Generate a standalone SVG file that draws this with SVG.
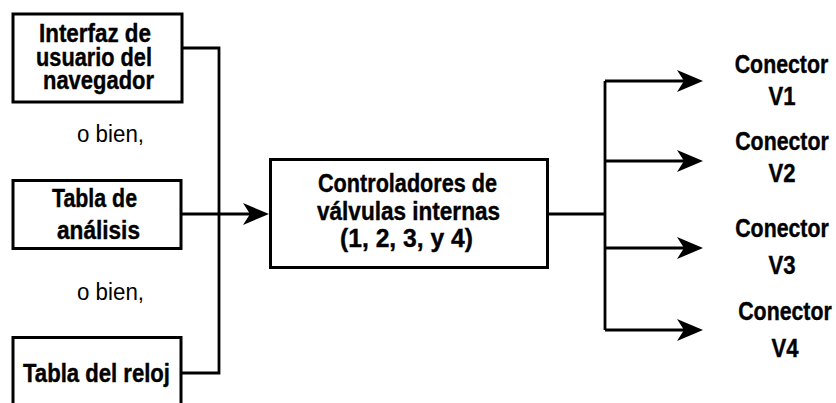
<svg xmlns="http://www.w3.org/2000/svg" width="836" height="403" viewBox="0 0 836 403">
<style>
.box{fill:#fff;stroke:#000;stroke-width:3}
.ln{fill:none;stroke:#000;stroke-width:2.8}
.b{font-family:"Liberation Sans",Arial,sans-serif;font-weight:bold;font-size:26px;fill:#000;stroke:#000;stroke-width:0.4}
.c{text-anchor:middle}
.r{font-family:"Liberation Sans",Arial,sans-serif;font-size:23px;fill:#000}
</style>
<defs>
<marker id="ah" markerUnits="userSpaceOnUse" markerWidth="26" markerHeight="22" viewBox="0 0 26 22" refX="7" refY="11" orient="auto">
<path d="M0 0 L26 11 L0 22 L7 11 Z" fill="#000"/>
</marker>
</defs>
<rect width="836" height="403" fill="#fff"/>
<g id="connectors">
<path class="ln" d="M182 48 H219 V373 H182"/>
<path class="ln" d="M182 214 H250" marker-end="url(#ah)"/>
<path class="ln" d="M549 214 H605"/>
<path class="ln" d="M605 81 V330"/>
<path class="ln" d="M605 81 H684" marker-end="url(#ah)"/>
<path class="ln" d="M605 161 H684" marker-end="url(#ah)"/>
<path class="ln" d="M605 248 H684" marker-end="url(#ah)"/>
<path class="ln" d="M605 330 H684" marker-end="url(#ah)"/>
</g>
<g id="node-interfaz">
<rect class="box" x="13" y="14" width="169" height="88"/>
<text class="b" x="39" y="42" textLength="112" lengthAdjust="spacingAndGlyphs">Interfaz de</text>
<text class="b" x="36" y="66" textLength="116" lengthAdjust="spacingAndGlyphs">usuario del</text>
<text class="b" x="43" y="89" textLength="111" lengthAdjust="spacingAndGlyphs">navegador</text>
</g>
<g id="label-obien-1">
<text class="r" x="77" y="142" textLength="67" lengthAdjust="spacingAndGlyphs">o bien,</text>
</g>
<g id="node-tabla-analisis">
<rect class="box" x="13" y="180.5" width="168" height="68"/>
<text class="b" x="52" y="207" textLength="85" lengthAdjust="spacingAndGlyphs">Tabla de</text>
<text class="b" x="57" y="239" textLength="83" lengthAdjust="spacingAndGlyphs">análisis</text>
</g>
<g id="label-obien-2">
<text class="r" x="77" y="300" textLength="67" lengthAdjust="spacingAndGlyphs">o bien,</text>
</g>
<g id="node-tabla-reloj">
<rect class="box" x="13" y="337.5" width="168" height="80"/>
<text class="b" x="23" y="382" textLength="147" lengthAdjust="spacingAndGlyphs">Tabla del reloj</text>
</g>
<g id="node-controladores">
<rect class="box" x="270.5" y="159.5" width="277" height="108"/>
<text class="b" x="318" y="192" textLength="179" lengthAdjust="spacingAndGlyphs">Controladores de</text>
<text class="b" x="317" y="220" textLength="183" lengthAdjust="spacingAndGlyphs">válvulas internas</text>
<text class="b" x="340" y="247" textLength="133" lengthAdjust="spacingAndGlyphs">(1, 2, 3, y 4)</text>
</g>
<g id="node-v1">
<text class="b c" transform="translate(781.5 73) scale(0.82 1)">Conector</text>
<text class="b c" transform="translate(782 105) scale(0.85 1)">V1</text>
</g>
<g id="node-v2">
<text class="b c" transform="translate(782 150) scale(0.82 1)">Conector</text>
<text class="b c" transform="translate(782 182) scale(0.85 1)">V2</text>
</g>
<g id="node-v3">
<text class="b c" transform="translate(782 237) scale(0.82 1)">Conector</text>
<text class="b c" transform="translate(782 274) scale(0.85 1)">V3</text>
</g>
<g id="node-v4">
<text class="b c" transform="translate(785 320) scale(0.82 1)">Conector</text>
<text class="b c" transform="translate(785 357) scale(0.85 1)">V4</text>
</g>
</svg>
